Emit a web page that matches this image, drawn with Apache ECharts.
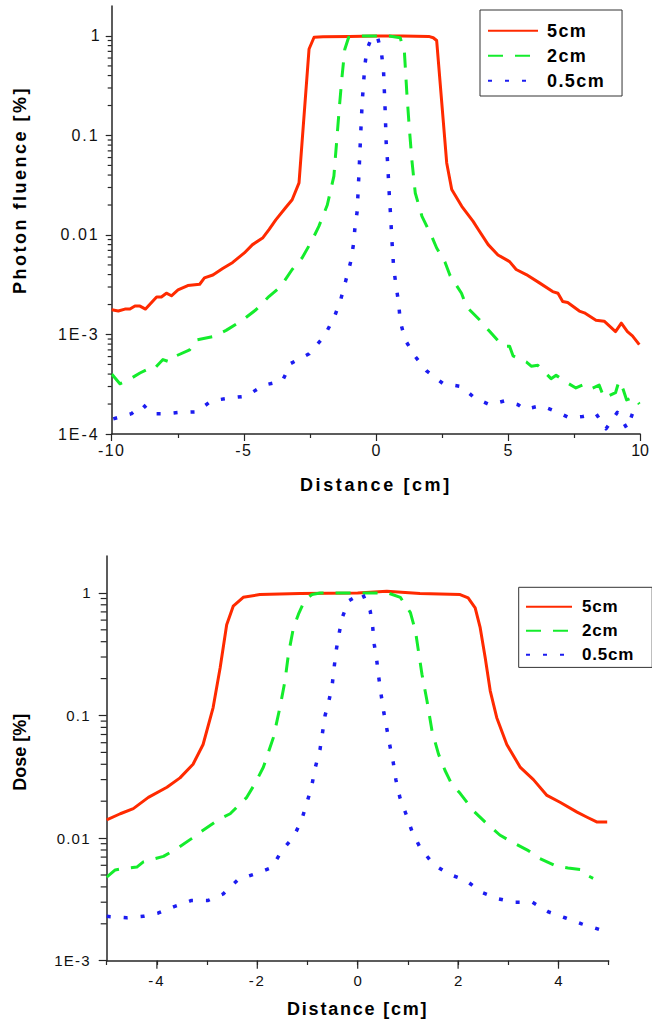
<!DOCTYPE html>
<html><head><meta charset="utf-8">
<script src="https://cdn.jsdelivr.net/npm/echarts@6/dist/echarts.min.js"></script>
<style>html,body{margin:0;padding:0;background:#fff}#chart{width:652px;height:1021px}</style>
</head><body><div id="chart"></div>
<script>
const seriesNames = ['5cm', '2cm', '0.5cm'];

// ---- Top panel: photon fluence vs distance ----
const fluence5cm = [[-10,1.77e-3],[-9.75,1.72e-3],[-9.5,1.8e-3],[-9.31,1.8e-3],[-9.12,1.93e-3],[-8.93,1.93e-3],[-8.72,1.8e-3],[-8.3,2.38e-3],[-8.12,2.38e-3],[-7.93,2.6e-3],[-7.74,2.45e-3],[-7.49,2.8e-3],[-7.12,3.1e-3],[-6.67,3.2e-3],[-6.49,3.7e-3],[-6.17,3.96e-3],[-5.8,4.6e-3],[-5.42,5.3e-3],[-4.98,6.6e-3],[-4.67,8.0e-3],[-4.29,9.3e-3],[-4.04,0.0114],[-3.79,0.0142],[-3.42,0.0188],[-3.17,0.0226],[-2.91,0.0334],[-2.53,0.74],[-2.34,0.97],[-2.0,0.98],[-1.0,0.99],[0,1.0],[1.0,1.0],[2.0,0.99],[2.17,0.96],[2.30,0.9],[2.68,0.053],[2.87,0.0286],[3.25,0.0194],[3.68,0.0137],[3.87,0.0114],[4.25,8.0e-3],[4.62,6.3e-3],[5.06,5.4e-3],[5.31,4.5e-3],[5.69,4.0e-3],[6.19,3.3e-3],[6.69,2.7e-3],[6.89,2.6e-3],[7.07,2.15e-3],[7.26,2.1e-3],[7.70,1.72e-3],[7.89,1.65e-3],[8.33,1.39e-3],[8.64,1.36e-3],[9.07,1.07e-3],[9.29,1.3e-3],[9.52,1.07e-3],[9.71,0.97e-3],[9.97,7.9e-4]];
const fluence2cm = [[-10,4.0e-4],[-9.69,3.2e-4],[-9.44,3.4e-4],[-8.93,4.1e-4],[-8.62,4.5e-4],[-8.43,4.4e-4],[-8.06,5.6e-4],[-7.81,5.3e-4],[-7.62,6.0e-4],[-7.05,7.0e-4],[-6.80,8.8e-4],[-6.17,9.5e-4],[-5.67,1.1e-3],[-5.04,1.4e-3],[-4.54,1.77e-3],[-4.04,2.42e-3],[-3.60,3.04e-3],[-3.17,4.5e-3],[-2.79,5.9e-3],[-2.41,8.9e-3],[-2.16,0.0122],[-1.84,0.02],[-1.59,0.039],[-1.47,0.098],[-1.38,0.197],[-1.28,0.395],[-1.18,0.73],[-1.03,0.97],[-0.5,1.0],[0,1.0],[0.5,1.0],[0.92,0.96],[1.08,0.68],[1.17,0.27],[1.26,0.124],[1.36,0.057],[1.49,0.0264],[1.74,0.0155],[2.11,9.7e-3],[2.30,7.4e-3],[2.62,5.3e-3],[2.81,3.9e-3],[3.24,2.6e-3],[3.43,1.9e-3],[3.93,1.4e-3],[4.31,1.07e-3],[4.81,7.6e-4],[5.06,7.6e-4],[5.19,6.1e-4],[5.69,5.3e-4],[5.88,4.8e-4],[6.13,4.9e-4],[6.63,3.6e-4],[6.82,3.9e-4],[7.13,3.4e-4],[7.57,2.9e-4],[7.82,3.1e-4],[8.08,2.8e-4],[8.45,3.1e-4],[8.64,2.3e-4],[9.07,2.6e-4],[9.2,3.4e-4],[9.36,2.8e-4],[9.49,2.2e-4],[9.77,2.35e-4],[9.97,2.0e-4]];
const fluence05cm = [[-9.94,1.42e-4],[-9.25,1.6e-4],[-8.81,1.97e-4],[-8.49,1.6e-4],[-7.93,1.6e-4],[-7.43,1.65e-4],[-6.80,1.67e-4],[-6.23,2.15e-4],[-5.54,2.3e-4],[-4.92,2.4e-4],[-4.23,3.1e-4],[-3.54,3.4e-4],[-3.23,5.1e-4],[-2.53,6.4e-4],[-1.97,9.5e-4],[-1.59,1.46e-3],[-1.34,2.2e-3],[-1.15,3.4e-3],[-0.96,5.3e-3],[-0.84,8.3e-3],[-0.80,0.0113],[-0.71,0.0172],[-0.64,0.042],[-0.58,0.098],[-0.52,0.214],[-0.42,0.5],[-0.34,0.73],[-0.21,0.89],[-0.08,0.97],[0.05,1.0],[0.21,0.68],[0.29,0.44],[0.35,0.18],[0.39,0.084],[0.44,0.055],[0.51,0.0245],[0.55,0.0167],[0.61,8.5e-3],[0.67,4.8e-3],[0.76,3.1e-3],[0.86,2.1e-3],[0.92,1.36e-3],[1.11,8.8e-4],[1.49,6.0e-4],[1.92,4.3e-4],[2.55,3.2e-4],[3.24,3.0e-4],[3.74,2.3e-4],[4.31,1.97e-4],[4.87,2.15e-4],[5.38,1.97e-4],[5.63,1.77e-4],[6.26,1.93e-4],[6.89,1.65e-4],[7.33,1.45e-4],[7.83,1.5e-4],[8.33,1.6e-4],[8.71,1.13e-4],[9.14,1.65e-4],[9.51,1.13e-4],[9.71,1.6e-4],[9.77,1.3e-4]];

// ---- Bottom panel: dose vs distance ----
const dose5cm = [[-5,0.0141],[-4.73,0.0158],[-4.47,0.0174],[-4.17,0.0215],[-3.80,0.026],[-3.54,0.031],[-3.28,0.040],[-3.08,0.058],[-2.88,0.116],[-2.74,0.245],[-2.61,0.55],[-2.48,0.78],[-2.28,0.92],[-1.95,0.97],[-1.15,0.99],[0,1.0],[0.58,1.03],[1.24,0.99],[2.04,0.97],[2.20,0.91],[2.34,0.755],[2.44,0.52],[2.54,0.296],[2.64,0.159],[2.77,0.096],[2.97,0.058],[3.24,0.0377],[3.50,0.03],[3.77,0.0223],[4.03,0.0196],[4.37,0.0163],[4.57,0.0148],[4.77,0.0135],[4.97,0.0135]];
const dose2cm = [[-5,4.8e-3],[-4.83,5.5e-3],[-4.73,5.6e-3],[-4.40,5.8e-3],[-4.27,6.4e-3],[-3.87,7.1e-3],[-3.60,8.2e-3],[-3.31,9.9e-3],[-3.08,0.0116],[-2.74,0.0144],[-2.54,0.0158],[-2.21,0.0215],[-2.05,0.0277],[-1.88,0.0378],[-1.68,0.066],[-1.55,0.116],[-1.45,0.19],[-1.38,0.316],[-1.28,0.52],[-1.18,0.67],[-1.05,0.88],[-0.91,0.97],[-0.75,1.0],[0,1.0],[0.60,1.0],[0.85,0.92],[1.05,0.69],[1.15,0.49],[1.21,0.336],[1.28,0.217],[1.38,0.132],[1.48,0.075],[1.61,0.0484],[1.74,0.0356],[1.87,0.0277],[2.04,0.0232],[2.30,0.0168],[2.54,0.0135],[2.83,0.0106],[3.07,9.3e-3],[3.40,7.9e-3],[3.63,6.8e-3],[3.96,5.9e-3],[4.19,5.7e-3],[4.49,5.5e-3],[4.56,5.0e-3],[4.69,4.7e-3]];
const dose05cm = [[-5,2.3e-3],[-4.60,2.24e-3],[-4.27,2.3e-3],[-3.97,2.45e-3],[-3.67,2.75e-3],[-3.31,3.1e-3],[-2.98,3.1e-3],[-2.68,3.5e-3],[-2.38,4.6e-3],[-2.05,5.1e-3],[-1.71,5.75e-3],[-1.51,7.9e-3],[-1.28,0.0102],[-1.12,0.0139],[-1.02,0.019],[-0.92,0.026],[-0.85,0.037],[-0.75,0.053],[-0.65,0.1],[-0.58,0.128],[-0.51,0.174],[-0.47,0.245],[-0.43,0.336],[-0.38,0.445],[-0.31,0.626],[-0.18,0.86],[0.09,1.0],[0.25,0.71],[0.30,0.52],[0.33,0.38],[0.38,0.28],[0.42,0.204],[0.47,0.145],[0.52,0.106],[0.58,0.078],[0.64,0.057],[0.71,0.041],[0.76,0.030],[0.84,0.0215],[0.96,0.0158],[1.08,0.0114],[1.24,8.4e-3],[1.51,6.1e-3],[1.81,5.1e-3],[2.16,4.5e-3],[2.48,3.6e-3],[2.80,3.2e-3],[3.13,3.0e-3],[3.48,3.0e-3],[3.80,2.5e-3],[4.13,2.24e-3],[4.46,2.0e-3],[4.81,1.8e-3]];

// ---- Axis tick definitions ----
const logMinorFactors = [2, 3, 4, 5, 6, 7, 8, 9];
const fluenceDecades = [1e-4, 1e-3, 1e-2, 1e-1];
const doseDecades = [1e-3, 1e-2, 1e-1];
const doseMajorXTicks = [-4, -2, 0, 2, 4];

const FONT = "'Liberation Sans', Arial, sans-serif";
const AXIS = '#262626';
const COLORS = ['#ff2a00', '#14ec2c', '#1c1cf0'];
const LINE_STYLES = [
  { width: 3, type: 'solid' },
  { width: 3, type: [15, 12] },
  { width: 3.5, type: [4, 13] }
];

function minorLogTicks(decades) {
  const out = [];
  decades.forEach(d => logMinorFactors.forEach(f => out.push(+(d * f).toPrecision(3))));
  return out;
}

function tickSeries(xi, yi, data, dx, dy) {
  return {
    type: 'custom', xAxisIndex: xi, yAxisIndex: yi, data: data, silent: true, clip: false, z: 4,
    renderItem: (params, api) => {
      const p = api.coord([api.value(0), api.value(1)]);
      return { type: 'line', shape: { x1: p[0], y1: p[1], x2: p[0] + dx, y2: p[1] + dy },
               style: { stroke: AXIS, lineWidth: 1.2 } };
    }
  };
}

function logLabel(v) {
  if (v >= 0.01) return String(+v.toPrecision(3));
  return '1E' + Math.round(Math.log10(v));
}

function lineSeries(idx, xi, yi, data) {
  return {
    name: seriesNames[idx], type: 'line', xAxisIndex: xi, yAxisIndex: yi, data: data,
    showSymbol: false, symbol: 'none', smooth: false, z: 3,
    lineStyle: Object.assign({ color: COLORS[idx], join: 'round' }, LINE_STYLES[idx]),
    itemStyle: { color: COLORS[idx] }
  };
}

const chart = echarts.init(document.getElementById('chart'), null, { renderer: 'svg' });

const xAxisCommon = {
  type: 'value',
  axisLine: { show: true, onZero: false, lineStyle: { color: AXIS, width: 1.5 } },
  splitLine: { show: false },
  nameLocation: 'middle',
  nameTextStyle: { fontFamily: FONT, fontWeight: 'bold', fontSize: 18, color: '#000' }
};
const yAxisCommon = {
  type: 'log', logBase: 10,
  axisLine: { show: true, onZero: false, lineStyle: { color: AXIS, width: 1.5 } },
  splitLine: { show: false }, minorTick: { show: false }, minorSplitLine: { show: false },
  nameLocation: 'middle', nameRotate: 90
};

const legendItemStyle = { color: 'rgba(0,0,0,0)', borderWidth: 0, opacity: 0 };

const option = {
  animation: false,
  backgroundColor: '#fff',
  textStyle: { fontFamily: FONT },
  grid: [
    { left: 111.7, top: 6, width: 530.3, height: 428 },
    { left: 106.7, top: 556, width: 502, height: 404.7 }
  ],
  xAxis: [
    Object.assign({}, xAxisCommon, {
      gridIndex: 0, min: -10, max: 10, interval: 5, name: 'Distance [cm]', nameGap: 42,
      axisTick: { show: true, length: 7, lineStyle: { color: AXIS, width: 1.2 } },
      minorTick: { show: true, splitNumber: 2, length: 4, lineStyle: { color: AXIS, width: 1.2 } },
      axisLabel: { margin: 8, fontSize: 16, color: '#111', fontFamily: FONT }
    }),
    Object.assign({}, xAxisCommon, {
      gridIndex: 1, min: -5, max: 5, interval: 1, name: 'Distance [cm]', nameGap: 39,
      axisTick: { show: true, length: 4.3, lineStyle: { color: AXIS, width: 1.2 } },
      axisLabel: { margin: 12, fontSize: 15, color: '#111', fontFamily: FONT,
        formatter: v => (Math.round(v) % 2 === 0 && Math.abs(v) < 5) ? String(Math.round(v)) : '' }
    })
  ],
  yAxis: [
    Object.assign({}, yAxisCommon, {
      gridIndex: 0, min: 1e-4, max: 2, name: 'Photon fluence [%]', nameGap: 83,
      nameTextStyle: { fontFamily: FONT, fontWeight: 'bold', fontSize: 18, color: '#000', padding: [0, 0, 0, 60] },
      axisTick: { show: true, length: 6, lineStyle: { color: AXIS, width: 1.2 } },
      axisLabel: { margin: 12, fontSize: 16, color: '#111', fontFamily: FONT, formatter: logLabel, showMaxLabel: false }
    }),
    Object.assign({}, yAxisCommon, {
      gridIndex: 1, min: 1e-3, max: 2, name: 'Dose [%]', nameGap: 78,
      nameTextStyle: { fontFamily: FONT, fontWeight: 'bold', fontSize: 18, color: '#000', padding: [0, 0, 0, 12] },
      axisTick: { show: true, length: 8, lineStyle: { color: AXIS, width: 1.2 } },
      axisLabel: { margin: 16, fontSize: 15, color: '#111', fontFamily: FONT, formatter: logLabel, showMaxLabel: false }
    })
  ],
  legend: [
    {
      data: seriesNames, orient: 'vertical', left: 480, top: 10, selectedMode: false,
      itemWidth: 50, itemHeight: 14, itemGap: 7, padding: [11.7, 24, 6.3, 7],
      borderColor: '#333', borderWidth: 1, backgroundColor: '#fff',
      itemStyle: legendItemStyle,
      textStyle: { fontFamily: FONT, fontWeight: 'bold', fontSize: 18, lineHeight: 18, color: '#000', padding: [0, 0, 0, 4] }
    },
    {
      data: seriesNames, orient: 'vertical', left: 518.7, top: 587.3, selectedMode: false,
      itemWidth: 46, itemHeight: 14, itemGap: 7, padding: [10.9, 22, 4.2, 6.3],
      borderColor: '#333', borderWidth: 1, backgroundColor: '#fff',
      itemStyle: legendItemStyle,
      textStyle: { fontFamily: FONT, fontWeight: 'bold', fontSize: 17, lineHeight: 17, color: '#000', padding: [0, 0, 0, 5] }
    }
  ],
  series: [
    tickSeries(0, 0, minorLogTicks(fluenceDecades).map(v => [-10, v]), -4, 0),
    tickSeries(1, 1, minorLogTicks(doseDecades).map(v => [-5, v]), -6, 0),
    tickSeries(1, 1, doseMajorXTicks.map(v => [v, 1e-3]), 0, 8),
    lineSeries(0, 0, 0, fluence5cm),
    lineSeries(1, 0, 0, fluence2cm),
    lineSeries(2, 0, 0, fluence05cm),
    lineSeries(0, 1, 1, dose5cm),
    lineSeries(1, 1, 1, dose2cm),
    lineSeries(2, 1, 1, dose05cm)
  ]
};

chart.setOption(option);

function applySpacing() {
  document.querySelectorAll('#chart svg text').forEach(t => {
    const s = (t.textContent || '').trim();
    const top = t.getBoundingClientRect().top < 520;
    let ls = 0;
    if (s === 'Photon fluence [%]') ls = 2.5;
    else if (s === 'Distance [cm]') ls = top ? 2.6 : 1.8;
    else if (s === 'Dose [%]') ls = 0;
    else if (seriesNames.indexOf(s) >= 0) ls = top ? 1.4 : 0.8;
    else if (/E|\./.test(s)) ls = top ? 2 : 1.2;
    else if (s.charAt(0) === '-') ls = top ? 1.5 : 2;
    t.style.letterSpacing = ls + 'px';
  });
}
chart.on('finished', applySpacing);
applySpacing();
</script>
</body></html>
